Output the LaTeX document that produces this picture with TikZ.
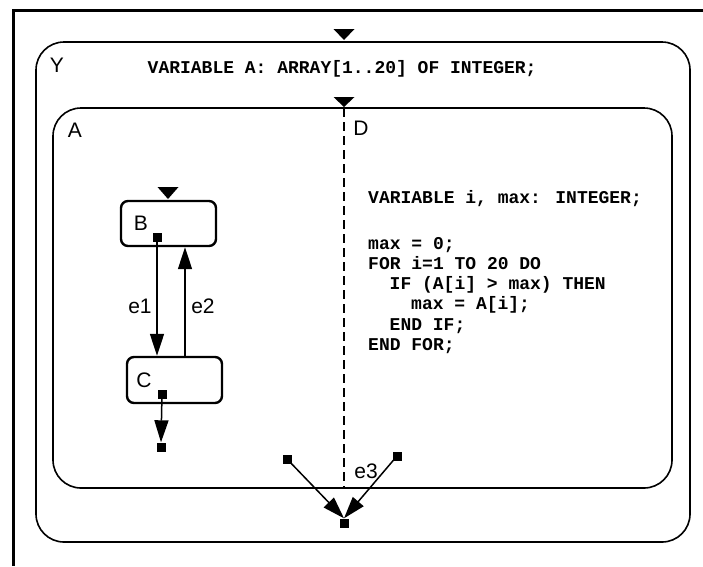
\documentclass[tikz,border=0pt]{standalone}
\usepackage{fontspec}
\setmainfont{Liberation Sans}
\newfontfamily\codefont{Liberation Mono}
\usetikzlibrary{arrows.meta,calc}
\tikzset{
  statebox/.style={draw, line width=1.6pt, rounded corners=28pt, inner sep=0pt},
  smallbox/.style={draw, line width=2.4pt, rounded corners=7pt, inner sep=0pt, minimum width=95pt, minimum height=45pt},
  lbl/.style={font=\fontsize{21}{21}\selectfont, inner sep=0pt},
  code/.style={font=\codefont\bfseries\fontsize{18}{20}\selectfont, inner sep=0pt, anchor=base west},
  dot/.style={fill=black, draw=none, minimum size=9pt, inner sep=0pt},
  trans/.style={line width=1.5pt, arrows={-Triangle[length=22pt,width=14pt]}},
  initmark/.style={fill=black, draw=none},
}
\begin{document}
\begin{tikzpicture}[x=1pt,y=-1pt]
\useasboundingbox (0,0) rectangle (703,566);
% frame
\draw[line width=3pt] (703,10) -- (13,10) -- (13,566);
% states
\node[statebox, minimum width=654pt, minimum height=500pt] (Y) at (363,292) {};
\node[statebox, minimum width=619pt, minimum height=380pt] (A) at (362.5,298) {};
\node[smallbox] (B) at (168.5,223.5) {};
\node[smallbox, minimum height=46pt] (C) at (174.5,380) {};
% initial marks
\fill[initmark] (333.5,29) -- (354.5,29) -- (344,40) -- cycle;
\fill[initmark] (333.5,97) -- (354.5,97) -- (344,107) -- cycle;
\fill[initmark] (157.5,187) -- (178.5,187) -- (168,199) -- cycle;
% concurrency divider
\coordinate (dtop) at (344,108);
\coordinate (dbot) at (344,488);
\draw[line width=1.5pt, dash pattern=on 9pt off 5pt] (dtop) -- (dbot);
% labels
\node[lbl] (ly) at (57,65) {Y};
\node[lbl] (la) at (75,130) {A};
\node[lbl] (ld) at (361,128) {D};
\node[lbl] (lb) at (141,223) {B};
\node[lbl] (lc) at (144,380) {C};
\node[lbl] (le1) at (140,306) {e1};
\node[lbl] (le2) at (203,306) {e2};
\node[lbl] (le3) at (366,471) {e3};
% code
\node[code] (vy) at (147.5,73) {VARIABLE A: ARRAY[1..20] OF INTEGER;};
\node[code] (c1) at (368,203) {VARIABLE i, max: INTEGER;};
\node[code] (c2) at (368,249) {max = 0;};
\node[code] (c3) at (368,269) {FOR i=1 TO 20 DO};
\node[code] (c4) at (389.5,289) {IF (A[i] > max) THEN};
\node[code] (c5) at (411,309) {max = A[i];};
\node[code] (c6) at (389.5,330) {END IF;};
\node[code] (c7) at (368,350) {END FOR;};
% connector dots
\node[dot] (sb) at (157,237) {};
\node[dot] (sc) at (162,394) {};
\node[dot] (sx) at (161,447) {};
\node[dot] (s1) at (287,459) {};
\node[dot] (s2) at (397,456) {};
\node[dot] (s3) at (344,523) {};
\coordinate (e2start) at (185,357);
% transitions
\draw[trans] (sb.center) -- (sb.center |- C.north);
\draw[trans] (e2start) -- (e2start |- B.south);
\draw[trans] (sc.center) -- (sx.north);
\draw[trans] (s1.center) -- (s3.north);
\draw[trans] (s2.center) -- (s3.north);
\end{tikzpicture}
\end{document}
